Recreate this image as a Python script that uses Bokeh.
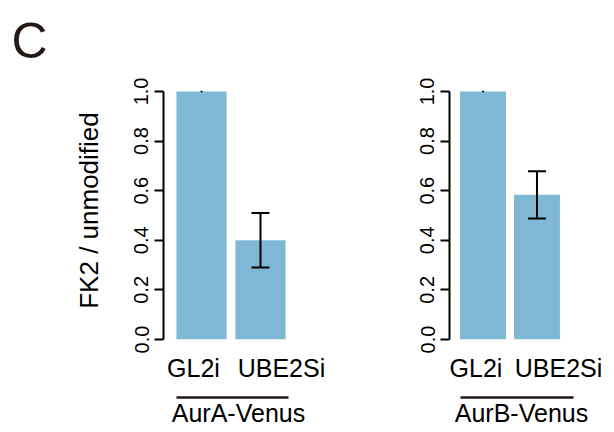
from bokeh.plotting import figure
from bokeh.models import Range1d, LinearAxis, FixedTicker, PrintfTickFormatter, ColumnDataSource
from bokeh.layouts import row
from bokeh.embed import file_html
from bokeh.resources import INLINE

# ---------------- data ----------------
panel_letter = "C"
categories = ["GL2i", "UBE2Si"]
groups = ["AurA-Venus", "AurB-Venus"]
means_aura = [1.0, 0.40]
sems_aura = [0.003, 0.11]
means_aurb = [1.0, 0.583]
sems_aurb = [0.003, 0.095]
y_ticks = [0.0, 0.2, 0.4, 0.6, 0.8, 1.0]
y_label = "FK2 / unmodified"

# ---------------- style ----------------
FONT = "Liberation Sans"
BAR = "#7fb8d4"
DARK = "#231815"
TOP = 81
FRAME_H = 258
BOTTOM = 93
H = TOP + FRAME_H + BOTTOM


def make_panel(group, means, sems, width, bl, br, x_start, px_per_unit,
               label_pos, underline, show_ylabel, letter=None):
    frame_w = width - bl - br
    x_end = x_start + frame_w / px_per_unit
    p = figure(width=width, height=H, output_backend="svg", toolbar_location=None,
               x_range=Range1d(x_start, x_end), y_range=Range1d(0, 1.04),
               x_axis_location=None, min_border_left=bl, min_border_right=br,
               min_border_top=TOP, min_border_bottom=BOTTOM)
    p.grid.grid_line_color = None
    p.outline_line_color = None
    p.background_fill_color = "white"
    p.border_fill_color = "white"

    xs = list(range(1, len(categories) + 1))
    lo = [m - s for m, s in zip(means, sems)]
    hi = [m + s for m, s in zip(means, sems)]
    src = ColumnDataSource(dict(x=xs, top=means, lo=lo, hi=hi))
    p.vbar(x="x", top="top", width=0.85, bottom=0, source=src,
           fill_color=BAR, line_color=None)
    p.segment(x0="x", y0="lo", x1="x", y1="hi", source=src,
              line_color="black", line_width=2)
    cap_idx = [i for i, s in enumerate(sems) if s > 0.01]
    cap_x = [xs[i] for i in cap_idx] * 2
    cap_y = [lo[i] for i in cap_idx] + [hi[i] for i in cap_idx]
    p.dash(x=cap_x, y=cap_y, size=18, line_width=2, line_color="black")

    ya = p.yaxis[0]
    ya.ticker = FixedTicker(ticks=y_ticks)
    ya.formatter = PrintfTickFormatter(format="%.1f")
    ya.bounds = (y_ticks[0], y_ticks[-1])
    ya.axis_line_width = 2
    ya.axis_line_color = "black"
    ya.major_tick_line_width = 2
    ya.major_tick_out = 9
    ya.major_tick_in = 0
    ya.minor_tick_line_color = None
    ya.major_label_orientation = "vertical"
    ya.major_label_text_font = FONT
    ya.major_label_text_font_size = "20px"
    ya.major_label_text_color = "black"
    ya.major_label_standoff = 6
    if show_ylabel:
        ya.axis_label = y_label
        ya.axis_label_text_font = FONT
        ya.axis_label_text_font_size = "26px"
        ya.axis_label_text_font_style = "normal"
        ya.axis_label_text_color = "black"
        ya.axis_label_standoff = 28

    # category labels
    ax_a = LinearAxis(ticker=FixedTicker(ticks=label_pos),
                      major_label_overrides={x: c for x, c in zip(label_pos, categories)},
                      axis_line_color=None, major_tick_line_color=None,
                      major_tick_out=0, major_tick_in=0,
                      minor_tick_line_color=None, major_label_standoff=14,
                      major_label_text_font=FONT, major_label_text_font_size="25px",
                      major_label_text_color="black")
    p.add_layout(ax_a, "below")
    # spacer between labels and underline (white tick on white)
    mid = sum(label_pos) / len(label_pos)
    ax_b = LinearAxis(ticker=FixedTicker(ticks=[mid]), major_label_overrides={mid: ""},
                      axis_line_color=None, major_tick_line_color="white",
                      major_tick_line_width=1,
                      major_tick_out=13, major_tick_in=0, major_label_standoff=0,
                      minor_tick_line_color=None)
    p.add_layout(ax_b, "below")
    # group underline + label
    ax_c = LinearAxis(ticker=FixedTicker(ticks=[]), bounds=underline,
                      axis_line_color=DARK, axis_line_width=2.5,
                      major_tick_line_color=None, major_tick_out=0, major_tick_in=0,
                      minor_tick_line_color=None, major_label_text_font_size="0px",
                      axis_label=group, axis_label_standoff=1,
                      axis_label_text_font=FONT, axis_label_text_font_size="25px",
                      axis_label_text_font_style="normal", axis_label_text_color="black")
    p.add_layout(ax_c, "below")

    if letter:
        p.title.text = letter
        p.title.text_font = FONT
        p.title.text_font_size = "50px"
        p.title.text_font_style = "normal"
        p.title.text_color = DARK
        p.title.align = "left"
        p.title.offset = -152
        p.title.standoff = 21
        p.title.vertical_align = "top"
    return p


p1 = make_panel(groups[0], means_aura, sems_aura, width=340, bl=163, br=27,
                x_start=0.356, px_per_unit=59, label_pos=[0.864, 2.356],
                underline=(0.576, 2.475), show_ylabel=True, letter=panel_letter)
p2 = make_panel(groups[1], means_aurb, sems_aurb, width=266, bl=109, br=13,
                x_start=0.380, px_per_unit=54, label_pos=[0.871, 2.399],
                underline=(0.584, 2.676), show_ylabel=False)

layout = row(p1, p2)
open("out.html", "w").write(file_html(layout, INLINE))
